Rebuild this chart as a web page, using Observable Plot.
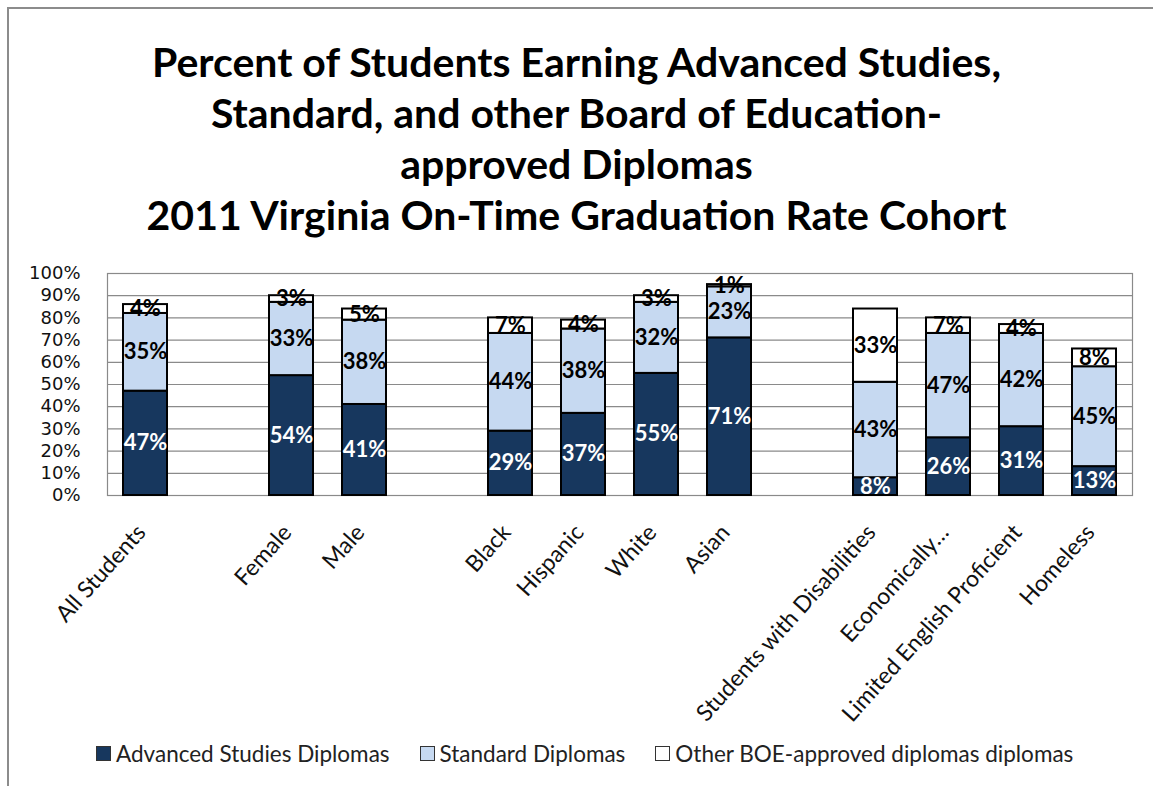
<!DOCTYPE html>
<html>
<head>
<meta charset="utf-8">
<script src="https://cdn.jsdelivr.net/npm/d3@7"></script>
<script src="https://cdn.jsdelivr.net/npm/@observablehq/plot@0.6"></script>
<style>
  html, body { margin: 0; padding: 0; background: #fff; }
  body { width: 1153px; height: 786px; overflow: hidden; position: relative; font-family: Lato, "Open Sans", sans-serif; }
  #frame { position: absolute; left: 7px; top: 7px; width: 1200px; height: 900px; border-left: 2px solid #8c8c8c; border-top: 2px solid #8c8c8c; pointer-events: none; }
  #title { height: 260px; box-sizing: border-box; padding-top: 36px; text-align: center; font-weight: 700; font-size: 41px; line-height: 51px; color: #000; }
  #chart svg { display: block; }
  #legend { display: flex; align-items: center; font-size: 22.5px; color: #222; padding-left: 96px; margin-top: 0px; }
  .item { display: flex; align-items: center; margin-right: 30px; }
  .sw { width: 15px; height: 15px; border: 1px solid #333; box-sizing: border-box; margin-right: 5px; }
</style>
</head>
<body>
<div id="frame"></div>
<div id="title">Percent of Students Earning Advanced Studies,<br>Standard, and other Board of Education-<br>approved Diplomas<br>2011 Virginia On-Time Graduation Rate Cohort</div>
<div id="chart"></div>
<div id="legend"></div>
<script>
// Categories (in display order) and gaps between groups
const categories = ["All Students", "Female", "Male", "Black", "Hispanic", "White", "Asian",
  "Students with Disabilities", "Economically…", "Limited English Proficient", "Homeless"];
const groupBreaksAfter = ["All Students", "Male", "Asian"];

// Series values (percent)
const advanced = [47, 54, 41, 29, 37, 55, 71, 8, 26, 31, 13];
const standard = [35, 33, 38, 44, 38, 32, 23, 43, 47, 42, 45];
const other    = [4, 3, 5, 7, 4, 3, 1, 33, 7, 4, 8];

const seriesNames = ["Advanced Studies Diplomas", "Standard Diplomas", "Other BOE-approved diplomas diplomas"];
const seriesColors = ["#17375E", "#C6D9F1", "#FFFFFF"];
const yTicks = [0, 10, 20, 30, 40, 50, 60, 70, 80, 90, 100];

// x domain with blank slots between groups
const xDomain = [];
let gapCount = 0;
categories.forEach(c => {
  xDomain.push(c);
  if (groupBreaksAfter.includes(c)) xDomain.push("gap" + (++gapCount));
});

const seriesValues = [advanced, standard, other];
const data = [];
categories.forEach((c, i) => {
  seriesNames.forEach((s, j) => data.push({category: c, series: s, value: seriesValues[j][i]}));
});

const chart = Plot.plot({
  width: 1153,
  height: 480,
  marginLeft: 107,
  marginRight: 21,
  marginTop: 13,
  marginBottom: 245,
  style: {fontFamily: "Lato, 'Open Sans', sans-serif", fontSize: "20px", color: "#111", background: "#fff"},
  x: {domain: xDomain, type: "band", paddingInner: 0.4, paddingOuter: 0.2, label: null},
  y: {domain: [0, 100], label: null},
  color: {domain: seriesNames, range: seriesColors},
  marks: [
    Plot.gridY(yTicks, {stroke: "#8a8a8a", strokeOpacity: 1, strokeWidth: 1.2}),
    Plot.frame({stroke: "#8a8a8a", strokeWidth: 1.2}),
    Plot.axisY({ticks: yTicks, tickFormat: d => d + "%", tickSize: 0, tickPadding: 27, fontSize: 18,
      fontFamily: "'DejaVu Sans', sans-serif", fill: "#111"}),
    Plot.axisX({tickSize: 0, tickPadding: 33, dx: -4, tickRotate: -48, fontSize: 23, fill: "#111",
      tickFormat: d => d.startsWith("gap") ? "" : d}),
    Plot.barY(data, Plot.stackY({x: "category", y: "value", fill: "series", stroke: "#000", strokeWidth: 2})),
    Plot.text(data, Plot.stackY({x: "category", y: "value",
      text: d => d.series === seriesNames[0] ? d.value + "%" : null,
      fill: "white", fontWeight: "bold", fontSize: 22})),
    Plot.text(data, Plot.stackY({x: "category", y: "value",
      text: d => d.series !== seriesNames[0] ? d.value + "%" : null,
      fill: "black", fontWeight: "bold", fontSize: 22}))
  ]
});
document.getElementById("chart").appendChild(chart);

const legend = document.getElementById("legend");
seriesNames.forEach((s, i) => {
  const item = document.createElement("div");
  item.className = "item";
  const sw = document.createElement("div");
  sw.className = "sw";
  sw.style.background = seriesColors[i];
  const label = document.createElement("span");
  label.textContent = s;
  item.appendChild(sw);
  item.appendChild(label);
  legend.appendChild(item);
});
</script>
</body>
</html>
